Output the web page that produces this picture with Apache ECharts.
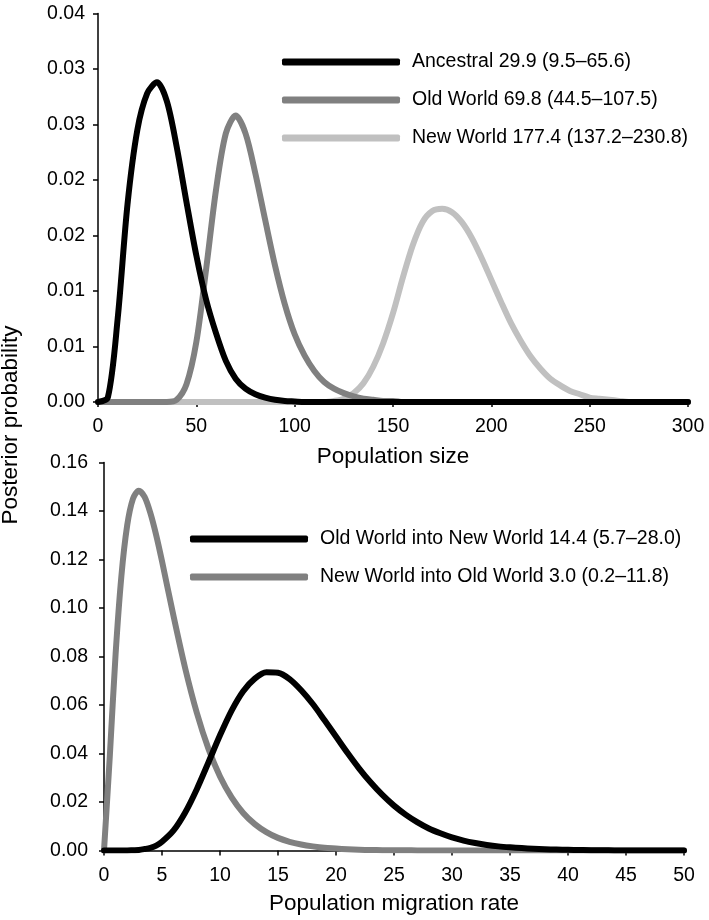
<!DOCTYPE html>
<html>
<head>
<meta charset="utf-8">
<script src="https://cdn.jsdelivr.net/npm/echarts@6/dist/echarts.min.js"></script>
<style>
html,body{margin:0;padding:0;background:#fff;}
#c{width:709px;height:920px;}
</style>
</head>
<body>
<div id="c"></div>
<script>
// ---------- data: top panel (population size) ----------
const topX = [0,5,10,15,20,25,30,35,40,45,50,55,60,65,70,75,80,85,90,95,100,105,110,115,120,125,130,135,140,145,150,155,160,165,170,175,180,185,190,195,200,205,210,215,220,225,230,235,240,245,250,255,260,265,270,275,280,285,290,295,300];
const ancestral = [0,0.0004,0.0075,0.0178,0.0245,0.0278,0.0288,0.0271,0.023,0.018,0.0132,0.0092,0.0062,0.0037,0.0021,0.0012,0.0007,0.0004,0.0002,0.0001,0.00005,0,0,0,0,0,0,0,0,0,0,0,0,0,0,0,0,0,0,0,0,0,0,0,0,0,0,0,0,0,0,0,0,0,0,0,0,0,0,0,0];
const oldWorld = [0,0,0,0,0,0,0,0,0.0002,0.0016,0.0054,0.012,0.0191,0.0242,0.0258,0.0242,0.0206,0.0164,0.0123,0.0088,0.0061,0.0042,0.0028,0.0018,0.0012,0.0008,0.0005,0.0003,0.0002,0.0001,0.0001,0,0,0,0,0,0,0,0,0,0,0,0,0,0,0,0,0,0,0,0,0,0,0,0,0,0,0,0,0,0];
const newWorld = [0,0,0,0,0,0,0,0,0,0,0,0,0,0,0,0,0,0,0,0,0,0,0,0,0.0001,0.0003,0.0008,0.0017,0.0032,0.0053,0.008,0.0112,0.0141,0.0162,0.0172,0.0174,0.0171,0.0162,0.0148,0.013,0.011,0.009,0.0071,0.0055,0.0041,0.003,0.0021,0.0015,0.001,0.0007,0.0004,0.0003,0.0002,0.0001,0,0,0,0,0,0,0];
const topNames = ['Ancestral 29.9 (9.5\u201365.6)','Old World 69.8 (44.5\u2013107.5)','New World 177.4 (137.2\u2013230.8)'];
const topYLabels = ['0.00','0.01','0.01','0.02','0.02','0.03','0.03','0.04'];

// ---------- data: bottom panel (migration rate) ----------
const botX = [0,0.5,1,1.5,2,2.5,3,3.5,4,4.5,5,6,7,8,9,10,11,12,13,14,15,16,17,18,19,20,21,22,23,24,25,26,27,28,29,30,31,32,33,34,35,36,37,38,39,40,41,42,43,44,45,46,47,48,49,50];
const owIntoNw = [0,0,0,0,0,0.0001,0.0002,0.0006,0.0011,0.002,0.0036,0.0083,0.0157,0.0253,0.0363,0.0475,0.0577,0.0657,0.0709,0.0735,0.0733,0.0707,0.0661,0.0604,0.0538,0.047,0.0402,0.0338,0.028,0.0229,0.0185,0.0148,0.0117,0.0091,0.0071,0.0054,0.0041,0.0031,0.0023,0.0017,0.0013,0.001,0.0007,0.0005,0.0004,0.0003,0.0002,0.0001,0.0001,0.00005,0,0,0,0,0,0];
const nwIntoOw = [0,0.0388,0.081,0.1132,0.1341,0.1451,0.1484,0.1458,0.1391,0.13,0.1193,0.0965,0.0751,0.0568,0.042,0.0305,0.0219,0.0155,0.0109,0.0076,0.0052,0.0036,0.0025,0.0017,0.0011,0.0008,0.0005,0.0003,0.0002,0.00015,0.0001,0.00007,0.00005,0.00003,0,0,0,0,0,0,0,0,0,0,0,0,0,0,0,0,0,0,0,0,0,0];
const botNames = ['Old World into New World 14.4 (5.7\u201328.0)','New World into Old World 3.0 (0.2\u201311.8)'];

const FONT = 'Liberation Sans, Arial, sans-serif';
const pairs = (xs, ys) => xs.map((x, i) => [x, ys[i]]);

const axisCommon = {
  axisLine: {show: true, onZero: false, lineStyle: {color: '#000', width: 1.5}},
  axisTick: {show: true, inside: false, length: 5, lineStyle: {color: '#000', width: 1.5}},
  splitLine: {show: false},
  axisLabel: {color: '#000', fontFamily: FONT, fontSize: 19.5, margin: 15}
};

function lineSeries(name, xs, ys, color, xi, yi) {
  return {
    type: 'line', name: name, xAxisIndex: xi, yAxisIndex: yi,
    data: pairs(xs, ys), showSymbol: false, symbol: 'none',
    smooth: 0.3,
    lineStyle: {color: color, width: 6, cap: 'round', join: 'round'},
    itemStyle: {color: color},
    silent: true, animation: false
  };
}

const chart = echarts.init(document.getElementById('c'), null, {renderer: 'canvas'});
const legendCommon = {
  orient: 'vertical', icon: 'roundRect', itemWidth: 118, itemHeight: 7,
  itemGap: 18, selectedMode: false,
  textStyle: {color: '#000', fontFamily: FONT, fontSize: 19.5, lineHeight: 20, padding: [0, 0, 0, 7]}
};
chart.setOption({
  animation: false,
  backgroundColor: '#fff',
  grid: [
    {left: 98, top: 13.5, width: 590, height: 388.5},
    {left: 104, top: 462.5, width: 580, height: 388}
  ],
  xAxis: [
    Object.assign({}, axisCommon, {type: 'value', gridIndex: 0, min: 0, max: 300, interval: 50,
      name: 'Population size', nameLocation: 'middle', nameGap: 43,
      nameTextStyle: {color: '#000', fontFamily: FONT, fontSize: 22.5}}),
    Object.assign({}, axisCommon, {type: 'value', gridIndex: 1, min: 0, max: 50, interval: 5,
      name: 'Population migration rate', nameLocation: 'middle', nameGap: 42,
      nameTextStyle: {color: '#000', fontFamily: FONT, fontSize: 22.5}})
  ],
  yAxis: [
    Object.assign({}, axisCommon, {type: 'value', gridIndex: 0, min: 0, max: 0.035, interval: 0.005,
      axisLabel: Object.assign({}, axisCommon.axisLabel, {margin: 13,
        formatter: v => topYLabels[Math.round(v / 0.005)]})}),
    Object.assign({}, axisCommon, {type: 'value', gridIndex: 1, min: 0, max: 0.16, interval: 0.02,
      axisLabel: Object.assign({}, axisCommon.axisLabel, {margin: 16,
        formatter: v => v.toFixed(2)})})
  ],
  legend: [
    Object.assign({}, legendCommon, {left: 277, top: 47, data: topNames}),
    Object.assign({}, legendCommon, {left: 185, top: 524, data: botNames})
  ],
  graphic: [{
    type: 'text', x: 11, y: 425, rotation: Math.PI / 2,
    style: {text: 'Posterior probability', fill: '#000', font: '22.5px ' + FONT,
      textAlign: 'center', textVerticalAlign: 'middle'}
  }],
  series: [
    lineSeries(topNames[2], topX, newWorld, '#c0c0c0', 0, 0),
    lineSeries(topNames[1], topX, oldWorld, '#808080', 0, 0),
    lineSeries(topNames[0], topX, ancestral, '#000000', 0, 0),
    lineSeries(botNames[1], botX, nwIntoOw, '#808080', 1, 1),
    lineSeries(botNames[0], botX, owIntoNw, '#000000', 1, 1)
  ]
});
</script>
</body>
</html>
